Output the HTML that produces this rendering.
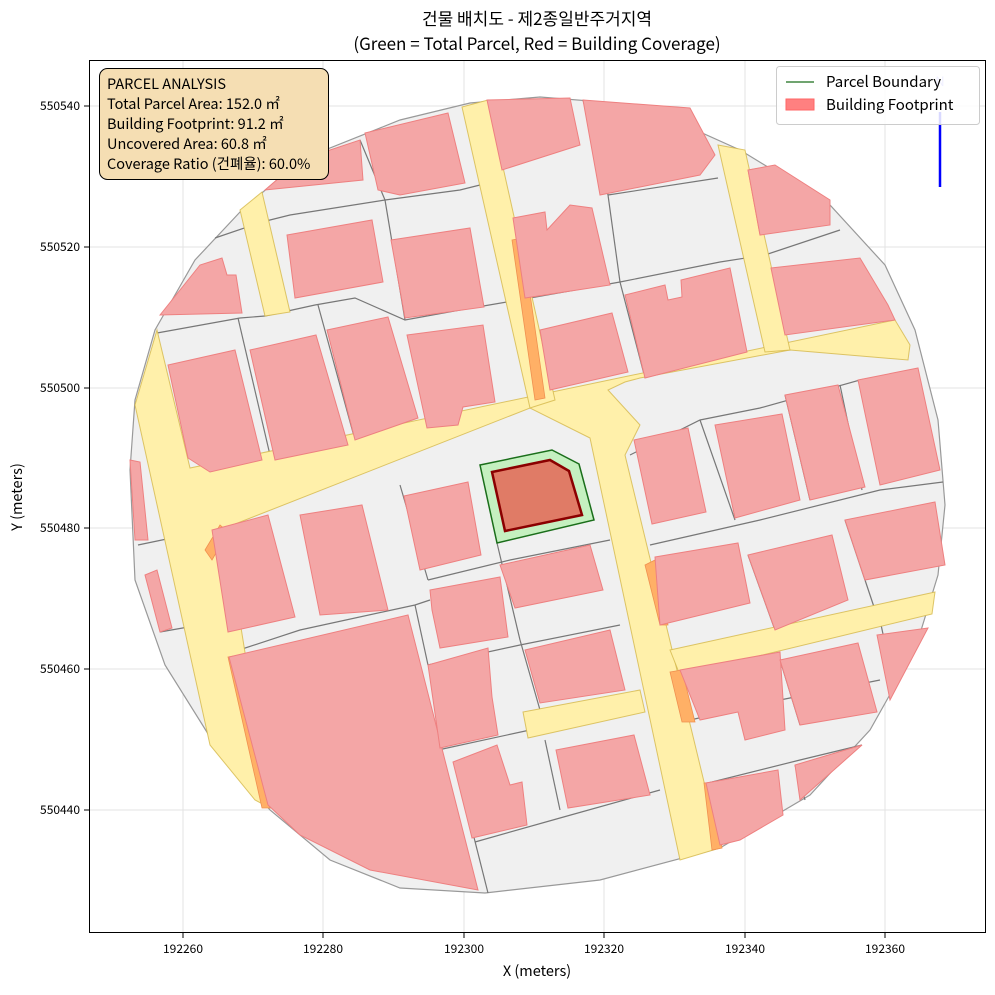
<!DOCTYPE html>
<html><head><meta charset="utf-8"><style>
body{margin:0;background:#fff;width:995px;height:990px;overflow:hidden}
svg text{font-family:"Noto Sans CJK KR","Liberation Sans",sans-serif}
</style></head><body>
<svg width="995" height="990" xmlns="http://www.w3.org/2000/svg">
<rect width="995" height="990" fill="#fff"/>
<g stroke="#e3e3e3" stroke-width="1">
<line x1="183" y1="60" x2="183" y2="933"/><line x1="323" y1="60" x2="323" y2="933"/><line x1="464" y1="60" x2="464" y2="933"/><line x1="604" y1="60" x2="604" y2="933"/><line x1="745" y1="60" x2="745" y2="933"/><line x1="885" y1="60" x2="885" y2="933"/>
<line x1="89" y1="106" x2="986" y2="106"/><line x1="89" y1="247" x2="986" y2="247"/><line x1="89" y1="388" x2="986" y2="388"/><line x1="89" y1="528" x2="986" y2="528"/><line x1="89" y1="669" x2="986" y2="669"/><line x1="89" y1="810" x2="986" y2="810"/>
</g>
<polygon points="540,97 640,105 740,150 830,205 885,265 915,330 938,420 945,505 938,575 915,650 870,730 810,795 720,848 600,880 485,893 400,888 330,860 270,810 215,745 165,665 135,580 130,470 135,400 155,330 195,260 240,212 300,160 400,120 470,103" fill="#f0f0f0" stroke="#999" stroke-width="1.2"/>
<g stroke="#777" stroke-width="1.2" fill="none">
<polyline points="157,333 240,318 265,316 315,305 355,298 405,320 460,310 530,298 620,282 720,262 765,255 840,230"/>
<polyline points="215,238 262,222 290,215 385,200 460,190 500,180"/>
<line x1="385" y1="200" x2="405" y2="320"/><line x1="318" y1="305" x2="355" y2="440"/><line x1="238" y1="318" x2="270" y2="455"/>
<line x1="583" y1="100" x2="608" y2="195"/><line x1="608" y1="195" x2="620" y2="282"/><line x1="608" y1="195" x2="718" y2="178"/>
<line x1="620" y1="282" x2="645" y2="378"/><line x1="360" y1="140" x2="385" y2="200"/>
<polyline points="630,455 700,420 760,408 860,380 915,370"/>
<line x1="700" y1="420" x2="735" y2="520"/><line x1="785" y1="395" x2="810" y2="500"/><line x1="840" y1="385" x2="862" y2="490"/>
<polyline points="650,545 760,520 880,490 943,482"/>
<line x1="748" y1="555" x2="775" y2="630"/><line x1="845" y1="520" x2="875" y2="610"/>
<polyline points="138,545 210,530"/><polyline points="160,632 228,620"/>
<polyline points="233,652 300,630 415,605 430,600"/>
<line x1="400" y1="485" x2="428" y2="580"/><line x1="428" y1="580" x2="510" y2="560"/><line x1="510" y1="560" x2="610" y2="540"/>
<line x1="497" y1="543" x2="520" y2="640"/><line x1="415" y1="605" x2="428" y2="665"/>
<polyline points="428,665 520,645 620,625"/><polyline points="438,750 530,730"/>
<line x1="520" y1="640" x2="540" y2="710"/><line x1="545" y1="740" x2="560" y2="810"/><line x1="455" y1="762" x2="488" y2="893"/>
<polyline points="475,842 560,818 660,790"/>
<polyline points="690,720 780,700 880,680"/><line x1="780" y1="660" x2="800" y2="725"/><line x1="880" y1="620" x2="895" y2="690"/>
<polyline points="700,785 800,760 862,745"/><line x1="795" y1="765" x2="805" y2="800"/>
</g>
<g fill="#fff0aa" stroke="#d4b84a" stroke-width="1" stroke-opacity="0.8">
<polygon points="157,330 190,468 895,320 910,345 908,360 790,350 640,378 625,382 608,390 640,425 625,455 720,848 680,860 590,438 530,408 225,528 270,808 255,800 210,745 135,405"/>
<polygon points="240,210 262,192 290,312 265,316"/>
<polygon points="462,107 488,100 555,400 530,408"/>
<polygon points="718,145 745,150 790,350 765,352"/>
<polygon points="670,650 935,592 932,614 680,675"/>
<polygon points="523,712 640,690 645,712 528,738"/>
</g>
<g fill="#ffb066" stroke="#f09050" stroke-width="0.8">
<polygon points="512,240 522,238 545,398 535,400"/>
<polygon points="205,550 220,525 228,532 212,560"/>
<polygon points="228,657 240,655 270,808 262,808"/>
<polygon points="645,565 655,560 668,625 660,625"/>
<polygon points="670,672 682,670 695,722 682,722"/>
<polygon points="704,783 714,782 722,848 712,850"/>
<polygon points="748,170 760,168 770,232 760,235"/>
</g>
<g fill="#f4a6a6" stroke="#ee8080" stroke-width="1">
<polygon points="487,100 570,98 580,145 502,170"/>
<polygon points="365,133 448,113 465,183 400,195 378,190"/>
<polygon points="265,190 300,160 360,140 363,180"/>
<polygon points="583,100 690,108 715,155 700,175 600,195"/>
<polygon points="748,170 775,165 830,200 830,225 760,235"/>
<polygon points="513,218 545,212 547,230 570,205 592,208 610,285 525,298"/>
<polygon points="391,240 470,228 484,307 405,318"/>
<polygon points="287,235 372,220 383,282 295,298"/>
<polygon points="160,315 200,265 222,258 227,275 236,275 242,313"/>
<polygon points="625,295 665,285 668,300 682,297 681,280 730,268 747,352 645,378"/>
<polygon points="771,268 860,258 888,305 895,320 785,335"/>
<polygon points="540,330 612,313 628,372 550,390"/>
<polygon points="407,335 483,325 495,402 463,407 458,425 427,428"/>
<polygon points="327,330 388,317 418,418 355,440"/>
<polygon points="250,350 316,335 348,445 275,460"/>
<polygon points="168,365 235,350 262,460 210,472 188,458"/>
<polygon points="634,440 688,428 706,512 652,524"/>
<polygon points="715,425 782,414 800,500 735,518"/>
<polygon points="785,395 838,385 865,487 810,500"/>
<polygon points="858,380 918,368 940,470 880,485"/>
<polygon points="404,496 468,482 481,555 420,570"/>
<polygon points="300,515 362,505 388,610 320,615"/>
<polygon points="212,530 268,515 295,617 228,632"/>
<polygon points="500,565 590,545 603,590 515,608"/>
<polygon points="430,590 500,577 508,637 440,648 432,610"/>
<polygon points="655,557 738,543 750,603 660,625"/>
<polygon points="748,555 832,535 848,600 775,630"/>
<polygon points="845,520 935,502 945,565 865,580"/>
<polygon points="229,657 408,615 478,890 370,870 300,835 268,805"/>
<polygon points="428,665 488,648 492,697 498,735 440,748"/>
<polygon points="525,650 610,630 625,690 540,703"/>
<polygon points="453,762 497,745 510,785 522,782 527,825 472,838"/>
<polygon points="556,750 634,735 650,795 568,808"/>
<polygon points="680,670 780,652 785,730 745,740 738,712 700,720"/>
<polygon points="780,660 858,643 877,712 800,725"/>
<polygon points="877,635 928,628 890,700"/>
<polygon points="795,765 862,745 800,800"/>
<polygon points="706,783 778,770 783,815 740,840 720,845"/>
<polygon points="130,460 140,462 148,540 135,540"/>
<polygon points="145,575 157,570 172,628 160,632"/>
</g>
<polygon points="480,465 552,450 579,464 594,520 497,543" fill="#c5f0c0" stroke="#1a6e1a" stroke-width="1.5"/>
<polygon points="492,472 550,460 569,471 582,515 505,531" fill="#e07b66" stroke="#8b0000" stroke-width="2.5"/>
<line x1="940" y1="112" x2="940" y2="187" stroke="#0000ff" stroke-width="2.5"/>
<text x="940" y="86" font-size="13" fill="#99f" text-anchor="middle">N</text>
<rect x="89.5" y="60.5" width="896" height="872" fill="none" stroke="#000" stroke-width="1"/>
<g stroke="#000"><line x1="183" y1="933" x2="183" y2="938"/><line x1="323" y1="933" x2="323" y2="938"/><line x1="464" y1="933" x2="464" y2="938"/><line x1="604" y1="933" x2="604" y2="938"/><line x1="745" y1="933" x2="745" y2="938"/><line x1="885" y1="933" x2="885" y2="938"/>
<line x1="84" y1="106" x2="89" y2="106"/><line x1="84" y1="247" x2="89" y2="247"/><line x1="84" y1="388" x2="89" y2="388"/><line x1="84" y1="528" x2="89" y2="528"/><line x1="84" y1="669" x2="89" y2="669"/><line x1="84" y1="810" x2="89" y2="810"/></g>
<g font-size="12" text-anchor="middle"><text x="183" y="953">192260</text><text x="323" y="953">192280</text><text x="464" y="953">192300</text><text x="604" y="953">192320</text><text x="745" y="953">192340</text><text x="885" y="953">192360</text></g>
<g font-size="12" text-anchor="end"><text x="80" y="110">550540</text><text x="80" y="251">550520</text><text x="80" y="392">550500</text><text x="80" y="532">550480</text><text x="80" y="673">550460</text><text x="80" y="814">550440</text></g>
<text x="537" y="976" font-size="14.5" text-anchor="middle">X (meters)</text>
<text x="22" y="497" font-size="14.5" text-anchor="middle" transform="rotate(-90 22 497)">Y (meters)</text>
<text x="537" y="25" font-size="17" text-anchor="middle">건물 배치도 - 제2종일반주거지역</text>
<text x="537" y="50" font-size="17" text-anchor="middle">(Green = Total Parcel, Red = Building Coverage)</text>
<rect x="99.5" y="68.5" width="229" height="111" rx="8" fill="#f5deb3" stroke="#000" stroke-width="1"/>
<g font-size="14.5"><text x="107" y="89">PARCEL ANALYSIS</text><text x="107" y="109">Total Parcel Area: 152.0 ㎡</text><text x="107" y="129">Building Footprint: 91.2 ㎡</text><text x="107" y="149">Uncovered Area: 60.8 ㎡</text><text x="107" y="169">Coverage Ratio (건폐율): 60.0%</text></g>
<rect x="776.5" y="66.5" width="203" height="58" rx="3" fill="#fff" fill-opacity="0.85" stroke="#ccc"/>
<line x1="786" y1="82" x2="814" y2="82" stroke="#1a6e1a" stroke-width="1.2"/>
<text x="826" y="87" font-size="15">Parcel Boundary</text>
<rect x="786" y="99" width="28" height="11" fill="#ff8080" stroke="#f66"/>
<text x="826" y="110" font-size="15">Building Footprint</text>
</svg>
</body></html>
